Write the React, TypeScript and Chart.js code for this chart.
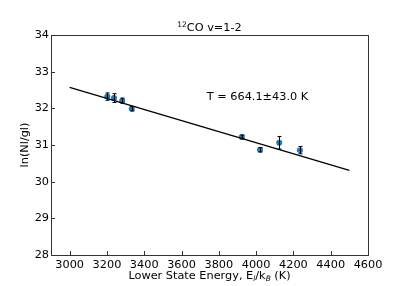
import React, { useEffect, useRef } from "react";
import { Chart, registerables } from "chart.js";

Chart.register(...registerables);

const energies = [3202, 3238, 3282, 3333, 3923, 4021, 4124, 4235];
const lnN = [32.32, 32.28, 32.21, 31.99, 31.22, 30.87, 31.06, 30.86];
const errs = [0.1, 0.12, 0.07, 0.06, 0.05, 0.06, 0.17, 0.1];
const fitX = [3000, 4500];
const fitY = [32.57, 30.31];
const xTicks = [3000, 3200, 3400, 3600, 3800, 4000, 4200, 4400, 4600];
const yTicks = [28, 29, 30, 31, 32, 33, 34];
const annotText = "T = 664.1\u00b143.0 K";
const annotAt = { x: 3735, y: 32.3 };

const FONT = "'DejaVu Sans', sans-serif";

function drawMixed(ctx: CanvasRenderingContext2D, parts: { t: string; size: number; dy: number; italic?: boolean }[], cx: number, cy: number) {
  let total = 0;
  for (const p of parts) {
    ctx.font = `${p.italic ? "italic " : ""}${p.size}px ${FONT}`;
    total += ctx.measureText(p.t).width;
  }
  let x = cx - total / 2;
  ctx.textAlign = "left";
  ctx.textBaseline = "alphabetic";
  for (const p of parts) {
    ctx.font = `${p.italic ? "italic " : ""}${p.size}px ${FONT}`;
    ctx.fillText(p.t, x, cy + p.dy);
    x += ctx.measureText(p.t).width;
  }
}

const customPlugin = {
  id: "custom",
  afterDatasetsDraw(chart: any) {
    const ctx = chart.ctx as CanvasRenderingContext2D;
    const xs = chart.scales.x;
    const ys = chart.scales.y;
    ctx.save();
    ctx.strokeStyle = "#000";
    ctx.lineWidth = 1;
    energies.forEach((e, i) => {
      const px = Math.round(xs.getPixelForValue(e)) + 0.5;
      const y1 = ys.getPixelForValue(lnN[i] + errs[i]);
      const y2 = ys.getPixelForValue(lnN[i] - errs[i]);
      ctx.beginPath();
      ctx.moveTo(px, y1);
      ctx.lineTo(px, y2);
      ctx.moveTo(px - 2, y1);
      ctx.lineTo(px + 2, y1);
      ctx.moveTo(px - 2, y2);
      ctx.lineTo(px + 2, y2);
      ctx.stroke();
    });
    ctx.restore();
  },
  afterDraw(chart: any) {
    const ctx = chart.ctx as CanvasRenderingContext2D;
    const xs = chart.scales.x;
    const ys = chart.scales.y;
    const a = chart.chartArea;
    ctx.save();
    ctx.strokeStyle = "#333";
    ctx.lineWidth = 1;
    ctx.strokeRect(Math.round(a.left) + 0.5, Math.round(a.top) + 0.5, Math.round(a.right - a.left), Math.round(a.bottom - a.top));
    ctx.beginPath();
    xTicks.forEach((v) => {
      const px = Math.round(xs.getPixelForValue(v)) + 0.5;
      ctx.moveTo(px, a.bottom);
      ctx.lineTo(px, a.bottom - 4);
    });
    yTicks.forEach((v) => {
      const py = Math.round(ys.getPixelForValue(v)) + 0.5;
      ctx.moveTo(a.left, py);
      ctx.lineTo(a.left + 4, py);
    });
    ctx.stroke();
    ctx.fillStyle = "#000";
    ctx.font = `11.3px ${FONT}`;
    ctx.textAlign = "left";
    ctx.textBaseline = "middle";
    ctx.fillText(annotText, xs.getPixelForValue(annotAt.x), ys.getPixelForValue(annotAt.y));
    const cx = (a.left + a.right) / 2;
    drawMixed(ctx, [
      { t: "12", size: 7.5, dy: -4 },
      { t: "CO v=1-2", size: 11.3, dy: 0 },
    ], cx, 31);
    drawMixed(ctx, [
      { t: "Lower State Energy, E", size: 11.3, dy: 0 },
      { t: "l", size: 7.5, dy: 2, italic: true },
      { t: "/k", size: 11.3, dy: 0 },
      { t: "B", size: 7.5, dy: 2, italic: true },
      { t: " (K)", size: 11.3, dy: 0 },
    ], cx, 279);
    ctx.translate(25.5, (a.top + a.bottom) / 2);
    ctx.rotate(-Math.PI / 2);
    ctx.font = `11.3px ${FONT}`;
    ctx.textAlign = "center";
    ctx.textBaseline = "middle";
    ctx.fillText("ln(Nl/gl)", 0, 0);
    ctx.restore();
  },
};

export default function App() {
  const ref = useRef<HTMLCanvasElement | null>(null);
  useEffect(() => {
    document.body.style.margin = "0";
    const canvas = ref.current!;
    const chart = new Chart(canvas, {
      type: "scatter",
      data: {
        datasets: [
          {
            type: "line",
            data: fitX.map((x, i) => ({ x, y: fitY[i] })),
            borderColor: "#000",
            borderWidth: 1.3,
            pointRadius: 0,
            fill: false,
          } as any,
          {
            data: energies.map((x, i) => ({ x, y: lnN[i] })),
            backgroundColor: "#1f77b4",
            borderColor: "#1f77b4",
            pointRadius: 3,
            pointBorderWidth: 0,
          },
        ],
      },
      options: {
        animation: false,
        responsive: false,
        devicePixelRatio: 1,
        layout: { padding: { left: 0, right: 41, top: 35, bottom: 0 } },
        plugins: { legend: { display: false }, tooltip: { enabled: false }, title: { display: false } },
        scales: {
          x: {
            type: "linear",
            min: 2900,
            max: 4600,
            afterBuildTicks: (s: any) => {
              s.ticks = xTicks.map((v) => ({ value: v }));
            },
            afterFit: (s: any) => {
              s.height = 31;
            },
            grid: { display: false, drawTicks: false },
            border: { display: false },
            ticks: { color: "#000", padding: 3, font: { family: FONT, size: 11.3 }, maxRotation: 0, autoSkip: false, callback: (v: any) => String(v) },
          },
          y: {
            type: "linear",
            min: 28,
            max: 34,
            afterBuildTicks: (s: any) => {
              s.ticks = yTicks.map((v) => ({ value: v }));
            },
            afterFit: (s: any) => {
              s.width = 51;
            },
            grid: { display: false, drawTicks: false },
            border: { display: false },
            ticks: { color: "#000", padding: 2, font: { family: FONT, size: 11.3 }, autoSkip: false, callback: (v: any) => String(v) },
          },
        },
      },
      plugins: [customPlugin],
    });
    return () => chart.destroy();
  }, []);
  return (
    <div style={{ position: "absolute", left: 0, top: 0, width: 409, height: 286, background: "#fff" }}>
      <canvas ref={ref} width={409} height={286} />
    </div>
  );
}
